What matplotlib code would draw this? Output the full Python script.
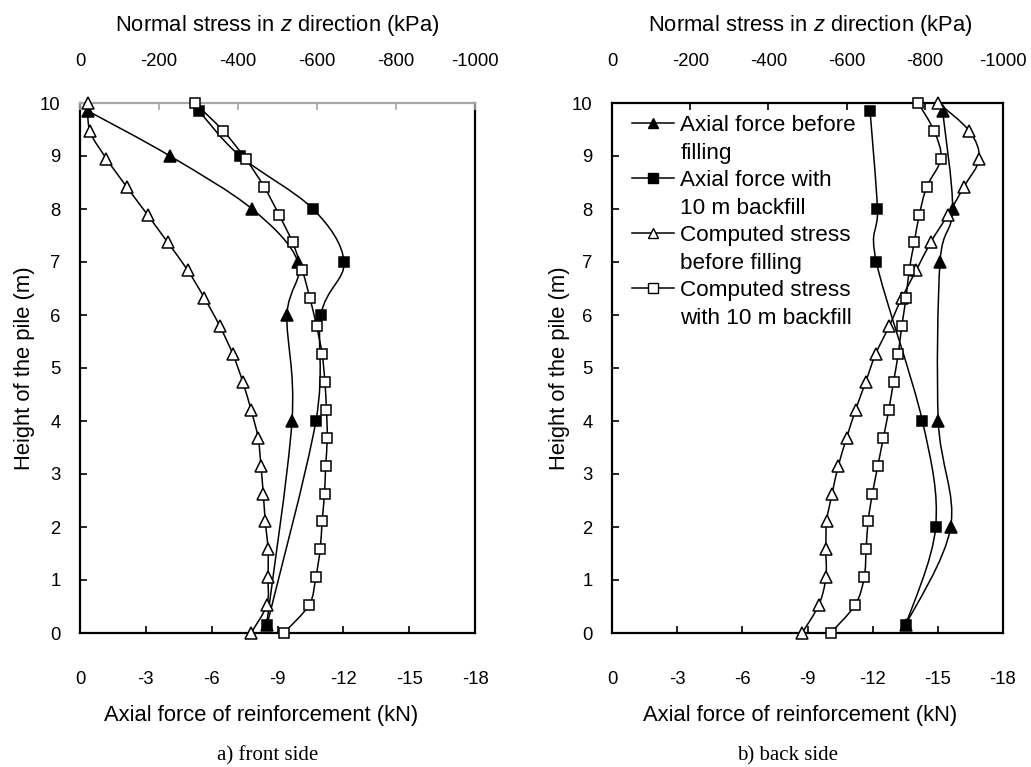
import numpy as np
import matplotlib
matplotlib.use("Agg")
import matplotlib.pyplot as plt
from matplotlib.path import Path
from matplotlib.patches import PathPatch
from matplotlib.lines import Line2D

plt.rcParams['font.family'] = ['Liberation Sans', 'DejaVu Sans']
plt.rcParams['mathtext.fontset'] = 'custom'
plt.rcParams['mathtext.it'] = 'Liberation Sans:italic'
plt.rcParams['mathtext.rm'] = 'Liberation Sans'
plt.rcParams['axes.unicode_minus'] = False

# ---------------- data ----------------
stress_heights = [10.0, 9.47, 8.95, 8.42, 7.89, 7.37, 6.84, 6.32, 5.79, 5.26,
                  4.74, 4.21, 3.68, 3.16, 2.63, 2.11, 1.58, 1.05, 0.53, 0.0]

# front side
front_force_heights = [9.85, 9.0, 8.0, 7.0, 6.0, 4.0, 0.15]
front_force_before = [-0.36, -4.10, -7.84, -9.93, -9.43, -9.66, -8.50]
front_force_after = [-5.42, -7.29, -10.62, -12.03, -10.98, -10.75, -8.52]
front_stress_before = [-20, -25, -67, -118, -171, -222, -273, -315, -354, -387,
                       -412, -433, -451, -458, -464, -469, -476, -476, -473, -433]
front_stress_after = [-291, -363, -419, -466, -504, -538, -563, -582, -599, -613,
                      -620, -624, -626, -622, -619, -613, -608, -597, -580, -516]

# back side
back_force_heights = [9.85, 8.0, 7.0, 4.0, 2.0, 0.15]
back_force_before = [-15.22, -15.68, -15.10, -15.02, -15.59, -13.52]
back_force_after = [-11.88, -12.22, -12.17, -14.29, -14.90, -13.52]
back_stress_before = [-835, -914, -939, -900, -859, -815, -778, -741, -709, -674,
                      -649, -623, -600, -579, -563, -549, -547, -547, -529, -486]
back_stress_after = [-783, -824, -841, -805, -786, -773, -760, -752, -741, -732,
                     -720, -708, -694, -680, -666, -655, -650, -645, -622, -559]

force_ticks = [0, -3, -6, -9, -12, -15, -18]
stress_ticks = [0, -200, -400, -600, -800, -1000]
height_ticks = list(range(0, 11))

legend_lines = [("Axial force before", "filling"),
                ("Axial force with", "10 m backfill"),
                ("Computed stress", "before filling"),
                ("Computed stress", "with 10 m backfill")]

# ---------------- helpers ----------------
def smooth_path(xs, ys):
    """Excel-style smoothed line (Catmull-Rom Bezier through the data points)."""
    P = np.column_stack([xs, ys]).astype(float)
    n = len(P)
    verts = [P[0]]
    codes = [Path.MOVETO]
    for i in range(n - 1):
        p0 = P[i - 1] if i > 0 else P[i]
        p1 = P[i]
        p2 = P[i + 1]
        p3 = P[i + 2] if i + 2 < n else P[i + 1]
        c1 = p1 + (p2 - p0) / 6.0
        c2 = p2 - (p3 - p1) / 6.0
        verts += [c1, c2, p2]
        codes += [Path.CURVE4] * 3
    return Path(verts, codes)

def draw_series(ax, xs, ys, marker, filled, z=3):
    ax.add_patch(PathPatch(smooth_path(xs, ys), fill=False, edgecolor='black',
                           lw=1.1, zorder=z))
    ax.plot(xs, ys, linestyle='none', marker=marker, ms=8 if marker == '^' else 7,
            mfc='black' if filled else 'white', mec='black', mew=1.1, zorder=z + 1,
            clip_on=False)

W, H = 1031, 767
fig = plt.figure(figsize=(W / 100, H / 100), dpi=100)

TICK_FS = 13.3
LABEL_FS = 15.8

def make_panel(left_px, width_px, top_color, fb, fa, fh, sb, sa,
               xlabel_x, toplabel_x, ylabel_x):
    ax = fig.add_axes([left_px / W, (H - 633) / H, width_px / W, 530 / H])
    ax.set_xlim(0, -18)
    ax.set_ylim(0, 10)
    ax.set_xticks(force_ticks)
    ax.set_yticks(height_ticks)
    ax.tick_params(axis='x', direction='in', length=5, width=1.2, pad=27,
                   labelsize=TICK_FS, top=False)
    ax.tick_params(axis='y', direction='in', length=5, width=1.2, pad=14,
                   labelsize=TICK_FS, right=False)
    for s in ['left', 'bottom', 'right']:
        ax.spines[s].set_linewidth(1.6)
        ax.spines[s].set_color('black')
    ax.spines['top'].set_visible(False)
    ax.set_xlabel("Axial force of reinforcement (kN)", fontsize=LABEL_FS)
    ax.xaxis.set_label_coords(xlabel_x, -0.136)
    ax.set_ylabel("Height of the pile (m)", fontsize=LABEL_FS)
    ax.yaxis.set_label_coords(ylabel_x, 0.5)

    ax2 = ax.twiny()
    ax2.set_xlim(0, -1000)
    ax2.set_xticks(stress_ticks)
    ax2.tick_params(axis='x', direction='in', length=5, width=1.2, pad=24,
                    labelsize=TICK_FS, color=top_color, top=True, bottom=False)
    for s in ['left', 'bottom', 'right']:
        ax2.spines[s].set_visible(False)
    ax2.spines['top'].set_color(top_color)
    ax2.spines['top'].set_linewidth(1.6)
    ax2.set_xlabel("Normal stress in $z$ direction (kPa)", fontsize=LABEL_FS)
    ax2.xaxis.set_label_coords(toplabel_x, 1.135)

    draw_series(ax, fb, fh, '^', True)
    draw_series(ax, fa, fh, 's', True)
    draw_series(ax2, sb, stress_heights, '^', False)
    draw_series(ax2, sa, stress_heights, 's', False)
    return ax, ax2

axL, axL2 = make_panel(80, 395, '#a6a6a6', front_force_before, front_force_after,
                       front_force_heights, front_stress_before, front_stress_after,
                       0.458, 0.499, -0.115)
axR, axR2 = make_panel(612, 391, 'black', back_force_before, back_force_after,
                       back_force_heights, back_stress_before, back_stress_after,
                       0.481, 0.506, -0.108)

styles = [('^', 'black', 7.5), ('s', 'black', 6.5), ('^', 'white', 7.5), ('s', 'white', 6.5)]
handles, texts = [], []
for (m, fc, ms), (l1, l2) in zip(styles, legend_lines):
    handles.append(Line2D([], [], color='black', lw=1.1, marker=m, ms=ms,
                          mfc=fc, mec='black'))
    texts.append(l1)
    handles.append(Line2D([], [], linestyle='none', marker='none'))
    texts.append(l2)

leg = axR2.legend(handles, texts, loc='upper left',
                  bbox_to_anchor=((632 - 612) / 391, 1 - 12 / 530),
                  frameon=False, fontsize=16.2, handlelength=1.85, handletextpad=0.3,
                  labelspacing=0.29, borderaxespad=0.0, borderpad=0.0)

fig.text(268 / W, 1 - 756 / H, "a) front side", ha='center', va='center',
         family=['Liberation Serif', 'DejaVu Serif'], fontsize=15)
fig.text(788 / W, 1 - 756 / H, "b) back side", ha='center', va='center',
         family=['Liberation Serif', 'DejaVu Serif'], fontsize=15)

fig.savefig("out.png", dpi=100)
